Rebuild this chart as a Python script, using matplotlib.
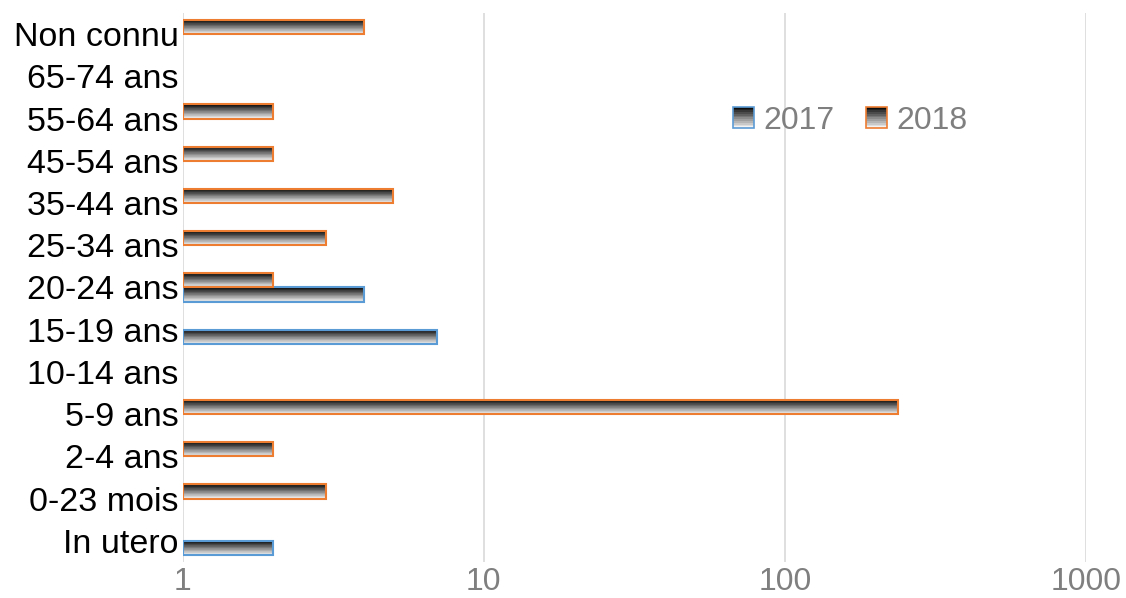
import numpy as np
import matplotlib
matplotlib.use("Agg")
import matplotlib.pyplot as plt
from matplotlib.patches import Rectangle
from matplotlib.legend_handler import HandlerBase

categories = ["In utero", "0-23 mois", "2-4 ans", "5-9 ans", "10-14 ans", "15-19 ans",
              "20-24 ans", "25-34 ans", "35-44 ans", "45-54 ans", "55-64 ans",
              "65-74 ans", "Non connu"]
series_names = ["2017", "2018"]
values_2017 = [2, None, None, None, None, 7, 4, None, None, None, None, None, None]
values_2018 = [None, 3, 2, 238, None, None, 2, 3, 5, 2, 2, None, 4]
xtick_values = [1, 10, 100, 1000]
xtick_labels = ["1", "10", "100", "1000"]

edge_colors = {"2017": "#5b9bd5", "2018": "#ed7d31"}
N_GRAD = 24
grad = [plt.cm.gray(0.05 + 0.9 * k / (N_GRAD - 1)) for k in range(N_GRAD)]  # top dark -> bottom light

plt.rcParams['font.family'] = ['Liberation Sans', 'DejaVu Sans']

fig = plt.figure(figsize=(11.26, 5.98), dpi=100)
ax = fig.add_axes([0.1623, 0.0605, 0.9645 - 0.1623, 0.978 - 0.0605])
ax.set_xscale('log')
ax.set_xlim(1, 1000)
ax.set_ylim(-0.5, len(categories) - 0.5)

bar_h = 0.34
offsets = {"2017": -bar_h / 2, "2018": bar_h / 2}

for name, vals in zip(series_names, [values_2017, values_2018]):
    for i, v in enumerate(vals):
        if v is None:
            continue
        yc = i + offsets[name]
        top = yc + bar_h / 2
        sh = bar_h / N_GRAD
        for k in range(N_GRAD):
            ax.barh(top - sh * (k + 0.5), v - 1, left=1, height=sh * 1.02,
                    color=grad[k], edgecolor='none', linewidth=0, zorder=2)
        ax.barh(yc, v - 1, left=1, height=bar_h, facecolor='none',
                edgecolor=edge_colors[name], linewidth=1.5, zorder=3)

ax.set_yticks(range(len(categories)))
ax.set_yticklabels(categories, fontsize=24.5, color='black')
ax.set_xticks(xtick_values)
ax.set_xticklabels(xtick_labels, fontsize=23, color='#7f7f7f')
ax.xaxis.set_minor_locator(matplotlib.ticker.NullLocator())
ax.tick_params(axis='both', length=0)
ax.tick_params(axis='y', pad=3)
ax.tick_params(axis='x', pad=4)
ax.grid(axis='x', color='#d9d9d9', linewidth=1.2, zorder=0)
ax.set_axisbelow(True)
for s in ax.spines.values():
    s.set_visible(False)


class HandlerGradient(HandlerBase):
    def __init__(self, ec):
        super().__init__()
        self.ec = ec

    def create_artists(self, legend, orig_handle, xdescent, ydescent, width, height, fontsize, trans):
        arts = []
        n = 12
        for k in range(n):
            c = plt.cm.gray(0.05 + 0.9 * k / (n - 1))
            r = Rectangle((-xdescent, -ydescent + height - height * (k + 1) / n), width, height / n,
                          facecolor=c, edgecolor='none', transform=trans)
            arts.append(r)
        arts.append(Rectangle((-xdescent, -ydescent), width, height, facecolor='none',
                              edgecolor=self.ec, linewidth=1.2, transform=trans))
        return arts


h1 = Rectangle((0, 0), 1, 1)
h2 = Rectangle((0, 0), 1, 1)
leg = ax.legend([h1, h2], series_names, loc='center', bbox_to_anchor=(0.739, 0.804),
                ncol=2, frameon=False, fontsize=23, handlelength=0.65, handleheight=0.65,
                handletextpad=0.3, columnspacing=1.0,
                handler_map={h1: HandlerGradient(edge_colors["2017"]),
                             h2: HandlerGradient(edge_colors["2018"])})
for t in leg.get_texts():
    t.set_color('#7f7f7f')

fig.savefig("out.png", dpi=100)
